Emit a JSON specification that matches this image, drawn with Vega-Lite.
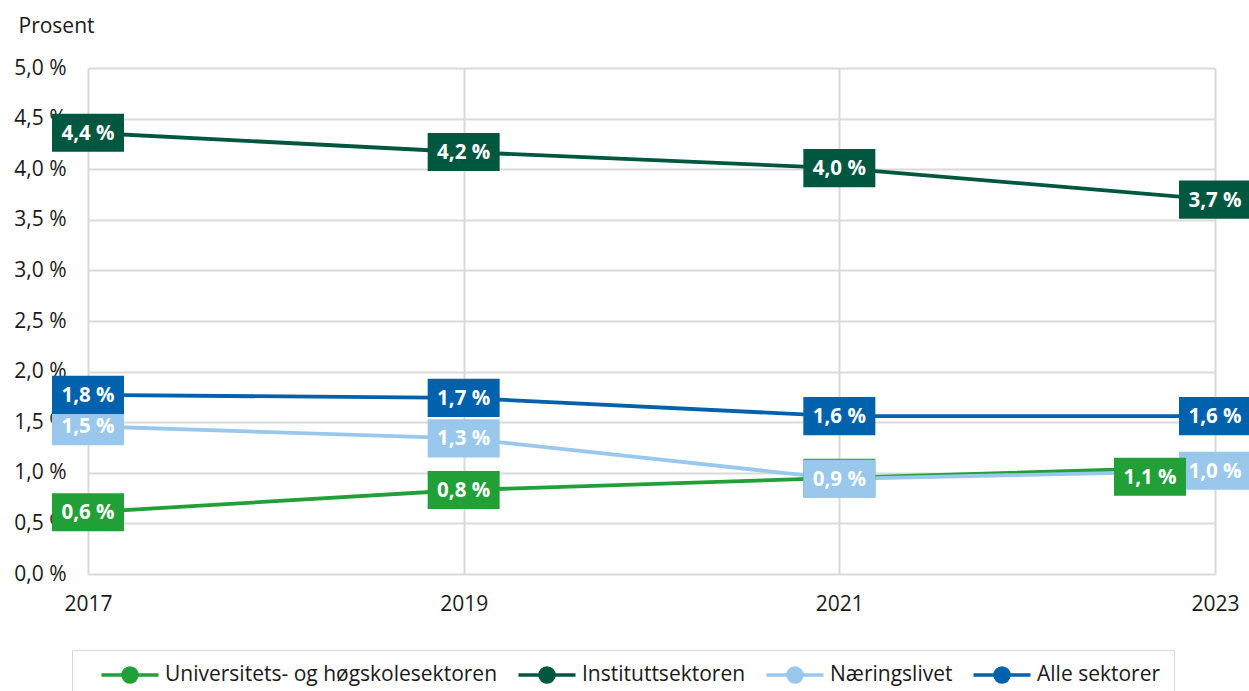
{
  "$schema": "https://vega.github.io/schema/vega-lite/v6.json",
  "width": 1127,
  "height": 506,
  "autosize": "none",
  "padding": {"left": 88, "top": 68, "right": 34, "bottom": 117},
  "background": "white",
  "config": {
    "font": "Open Sans",
    "view": {"stroke": null},
    "axis": {"labelFont": "Open Sans", "labelColor": "#1a1a1a", "titleFont": "Open Sans"}
  },
  "data": {
    "values": [
      {"sektor": "Universitets- og høgskolesektoren", "år": 2017, "andel": 0.61},
      {"sektor": "Universitets- og høgskolesektoren", "år": 2019, "andel": 0.83},
      {"sektor": "Universitets- og høgskolesektoren", "år": 2021, "andel": 0.95},
      {"sektor": "Universitets- og høgskolesektoren", "år": 2023, "andel": 1.06},
      {"sektor": "Instituttsektoren", "år": 2017, "andel": 4.36},
      {"sektor": "Instituttsektoren", "år": 2019, "andel": 4.17},
      {"sektor": "Instituttsektoren", "år": 2021, "andel": 4.01},
      {"sektor": "Instituttsektoren", "år": 2023, "andel": 3.70},
      {"sektor": "Næringslivet", "år": 2017, "andel": 1.46},
      {"sektor": "Næringslivet", "år": 2019, "andel": 1.34},
      {"sektor": "Næringslivet", "år": 2021, "andel": 0.94},
      {"sektor": "Næringslivet", "år": 2023, "andel": 1.02},
      {"sektor": "Alle sektorer", "år": 2017, "andel": 1.77},
      {"sektor": "Alle sektorer", "år": 2019, "andel": 1.74},
      {"sektor": "Alle sektorer", "år": 2021, "andel": 1.56},
      {"sektor": "Alle sektorer", "år": 2023, "andel": 1.56}
    ]
  },
  "transform": [
    {"calculate": "replace(format(datum.andel, '.1f'), '.', ',') + ' %'", "as": "etikett"}
  ],
  "encoding": {
    "x": {
      "field": "år", "type": "quantitative",
      "scale": {"domain": [2017, 2023], "zero": false, "nice": false},
      "axis": {
        "title": null, "values": [2017, 2019, 2021, 2023], "format": "d",
        "grid": true, "gridColor": "#d9d9d9", "gridWidth": 2,
        "domain": false, "ticks": false, "labelPadding": 19,
        "labelFontSize": 21, "labelFlush": false
      }
    },
    "y": {
      "field": "andel", "type": "quantitative",
      "scale": {"domain": [0, 5], "nice": false},
      "axis": {
        "values": [0, 0.5, 1, 1.5, 2, 2.5, 3, 3.5, 4, 4.5, 5],
        "labelExpr": "replace(format(datum.value, '.1f'), '.', ',') + ' %'",
        "grid": true, "gridColor": "#d9d9d9", "gridWidth": 2,
        "domain": false, "ticks": false, "labelPadding": 22,
        "labelFontSize": 21,
        "title": "Prosent", "titleAngle": 0, "titleAlign": "left", "titleBaseline": "middle",
        "titleX": -70, "titleY": -42, "titleFontSize": 21, "titleFontWeight": "normal", "titleColor": "#1a1a1a"
      }
    },
    "color": {
      "field": "sektor", "type": "nominal",
      "scale": {
        "domain": ["Universitets- og høgskolesektoren", "Instituttsektoren", "Næringslivet", "Alle sektorer"],
        "range": ["#21a038", "#00573f", "#99c8ec", "#0061ad"]
      },
      "legend": {
        "title": null, "orient": "none", "direction": "horizontal",
        "legendX": -16, "legendY": 582,
        "strokeColor": "#d9d9d9", "padding": 13,
        "labelFont": "Open Sans", "labelFontSize": 21, "labelColor": "#1a1a1a", "labelLimit": 500,
        "symbolType": "M-2.85,0H2.85M0.7,0A0.7,0.7,0,1,1,-0.7,0A0.7,0.7,0,1,1,0.7,0Z",
        "symbolSize": 400, "symbolStrokeWidth": 0.35, "symbolOffset": 33,
        "labelOffset": 23,
        "columnPadding": 4,
        "encode": {"symbols": {"update": {
          "fill": {"scale": "color", "field": "value"},
          "stroke": {"scale": "color", "field": "value"},
          "strokeWidth": {"value": 3.5},
          "opacity": {"value": 1}
        }}}
      }
    }
  },
  "layer": [
    {"mark": {"type": "line", "strokeWidth": 3.8}},
    {
      "transform": [{"filter": "!(datum.sektor == 'Universitets- og høgskolesektoren' && datum['år'] == 2023)"}],
      "mark": {"type": "point", "filled": true, "opacity": 1, "strokeWidth": 0,
               "shape": "M-1,-0.53H1V0.53H-1Z", "size": 5184}
    },
    {
      "transform": [{"filter": "datum.sektor == 'Universitets- og høgskolesektoren' && datum['år'] == 2023"}],
      "mark": {"type": "point", "filled": true, "opacity": 1, "strokeWidth": 0,
               "shape": "M-1,-0.53H1V0.53H-1Z", "size": 5184, "xOffset": -65, "yOffset": 10}
    },
    {
      "transform": [{"filter": "datum.sektor == 'Universitets- og høgskolesektoren' && datum['år'] == 2023"}],
      "mark": {"type": "text", "font": "Open Sans", "fontWeight": "bold", "fontSize": 20.5, "baseline": "middle", "align": "center", "xOffset": -65, "yOffset": 11},
      "encoding": {"text": {"field": "etikett"}, "color": {"value": "white"}}
    },
    {
      "transform": [{"filter": "datum.sektor != 'Universitets- og høgskolesektoren' || (datum['år'] != 2021 && datum['år'] != 2023)"}],
      "mark": {"type": "text", "font": "Open Sans", "fontWeight": "bold", "fontSize": 20.5, "baseline": "middle", "align": "center", "yOffset": 1},
      "encoding": {"text": {"field": "etikett"}, "color": {"value": "white"}}
    }
  ]
}
